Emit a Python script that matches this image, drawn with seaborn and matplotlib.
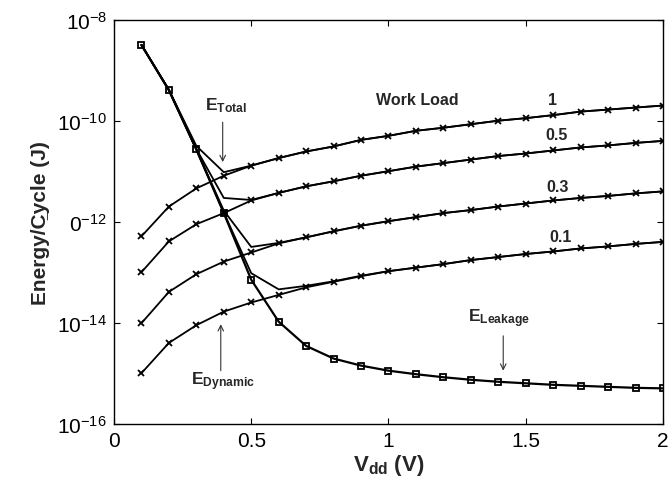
#%%     Imports
import numpy as np
import pandas as pd
import matplotlib
matplotlib.use("Agg")
import matplotlib.pyplot as plt
from matplotlib.ticker import FixedLocator, FixedFormatter, NullLocator
import seaborn as sns


#%%     Data (log10 of energy per cycle)

vdd = [0.1, 0.2, 0.3, 0.4, 0.5, 0.6, 0.7, 0.8, 0.9, 1.0,
       1.1, 1.2, 1.3, 1.4, 1.5, 1.6, 1.7, 1.8, 1.9, 2.0]

work_loads = ['1', '0.5', '0.3', '0.1']

log_leakage = [-8.50, -9.40, -10.57, -11.83, -13.15, -13.98, -14.46, -14.71, -14.85, -14.95,
               -15.02, -15.08, -15.13, -15.17, -15.20, -15.23, -15.25, -15.27, -15.29, -15.30]

log_dyn_1 = [-12.29, -11.70, -11.34, -11.09, -10.89, -10.74, -10.61, -10.51, -10.38, -10.30,
             -10.20, -10.14, -10.07, -10.00, -9.95, -9.89, -9.82, -9.78, -9.74, -9.70]
log_dyn_05 = [-13.00, -12.39, -12.05, -11.83, -11.58, -11.43, -11.30, -11.20, -11.09, -11.00,
              -10.91, -10.84, -10.77, -10.70, -10.65, -10.59, -10.53, -10.49, -10.44, -10.40]
log_dyn_03 = [-14.01, -13.39, -13.04, -12.79, -12.61, -12.43, -12.31, -12.19, -12.08, -11.99,
              -11.91, -11.83, -11.77, -11.70, -11.64, -11.58, -11.53, -11.49, -11.44, -11.40]
log_dyn_01 = [-15.00, -14.40, -14.05, -13.78, -13.60, -13.45, -13.30, -13.19, -13.08, -12.98,
              -12.91, -12.84, -12.76, -12.70, -12.64, -12.59, -12.53, -12.49, -12.44, -12.40]

log_tot_1 = [-8.50, -9.39, -10.50, -11.02, -10.89, -10.74, -10.61, -10.51, -10.38, -10.30,
             -10.20, -10.14, -10.07, -10.00, -9.95, -9.89, -9.82, -9.78, -9.74, -9.70]
log_tot_05 = [-8.50, -9.39, -10.56, -11.53, -11.57, -11.43, -11.30, -11.20, -11.09, -11.00,
              -10.91, -10.84, -10.77, -10.70, -10.65, -10.59, -10.53, -10.49, -10.44, -10.40]
log_tot_03 = [-8.50, -9.39, -10.57, -11.78, -12.50, -12.42, -12.31, -12.19, -12.08, -11.99,
              -11.91, -11.83, -11.77, -11.70, -11.64, -11.58, -11.53, -11.49, -11.44, -11.40]
log_tot_01 = [-8.50, -9.39, -10.57, -11.82, -13.02, -13.34, -13.27, -13.18, -13.07, -12.98,
              -12.91, -12.84, -12.76, -12.70, -12.64, -12.59, -12.53, -12.49, -12.44, -12.40]

y_ticks = [1e-16, 1e-14, 1e-12, 1e-10, 1e-8]
y_tick_labels = ['$10^{-16}$', '$10^{-14}$', '$0^{-12}$', '$10^{-10}$', '$10^{-8}$']
x_ticks = [0, 0.5, 1, 1.5, 2]
x_tick_labels = ['0', '0.5', '1', '1.5', '2']


#%%     Style
sns.set_style('ticks')
plt.rcParams['font.family'] = ['Liberation Sans', 'DejaVu Sans']
plt.rcParams['mathtext.fontset'] = 'custom'
plt.rcParams['mathtext.rm'] = 'Liberation Sans'
plt.rcParams['mathtext.bf'] = 'Liberation Sans:bold'
plt.rcParams['mathtext.it'] = 'Liberation Sans:italic'


#%%     Plot
fig = plt.figure(figsize=(6.69, 4.89), dpi=100)
ax = fig.add_axes([0.1704, 0.1315, 0.8206, 0.8262])

def to_df(logs):
    return pd.DataFrame({'vdd': vdd, 'E': 10.0 ** np.array(logs)})

for logs in [log_tot_1, log_tot_05, log_tot_03, log_tot_01]:
    sns.lineplot(data=to_df(logs), x='vdd', y='E', ax=ax, color='black',
                 lw=1.3, estimator=None, sort=False)

for logs in [log_dyn_1, log_dyn_05, log_dyn_03, log_dyn_01]:
    sns.lineplot(data=to_df(logs), x='vdd', y='E', ax=ax, color='black',
                 lw=1.3, marker='x', markersize=4.5, markeredgewidth=1.3,
                 markeredgecolor='black', estimator=None, sort=False)

sns.lineplot(data=to_df(log_leakage), x='vdd', y='E', ax=ax, color='black',
             lw=1.6, marker='s', markersize=5, markeredgewidth=1.3,
             markerfacecolor='none', markeredgecolor='black',
             estimator=None, sort=False)

ax.set_yscale('log')
ax.set_xlim(0, 2)
ax.set_ylim(1e-16, 1e-8)
ax.yaxis.set_major_locator(FixedLocator(y_ticks))
ax.yaxis.set_major_formatter(FixedFormatter(y_tick_labels))
ax.yaxis.set_minor_locator(NullLocator())
ax.xaxis.set_major_locator(FixedLocator(x_ticks))
ax.xaxis.set_major_formatter(FixedFormatter(x_tick_labels))
ax.tick_params(direction='in', length=4, width=0.8, labelsize=15, pad=5,
               top=True, right=True, colors='black')
for sp in ax.spines.values():
    sp.set_visible(True)
    sp.set_linewidth(1.0)
    sp.set_color('black')

ax.set_xlabel(r'$\mathbf{V_{dd}}$ (V)', fontsize=16, fontweight='bold', labelpad=2)
ax.set_ylabel('Energy/C\u0332ycle (J)', fontsize=15, fontweight='bold', labelpad=5)

# curve labels
ax.text(1.104, 10 ** -9.59, 'Work Load', fontsize=11.5, fontweight='bold', ha='center', va='center')
label_pos = [(1.599, -9.59), (1.613, -10.28), (1.617, -11.30), (1.628, -12.30)]
for wl, (lx, ly) in zip(work_loads, label_pos):
    ax.text(lx, 10 ** ly, wl, fontsize=11.5, fontweight='bold', ha='center', va='center')

# energy annotations
arrow = dict(arrowstyle='->', color='#333333', lw=0.8, shrinkA=0, shrinkB=0)
ax.annotate('', xy=(0.396, 10 ** -10.82), xytext=(0.396, 10 ** -10.03), arrowprops=arrow)
ax.text(0.332, 10 ** -9.77, r'$\mathbf{E_{Total}}$', fontsize=12.5, ha='left', va='baseline')
ax.annotate('', xy=(0.389, 10 ** -14.03), xytext=(0.389, 10 ** -14.95), arrowprops=arrow)
ax.text(0.279, 10 ** -15.21, r'$\mathbf{E_{Dynamic}}$', fontsize=12.5, ha='left', va='baseline')
ax.annotate('', xy=(1.418, 10 ** -14.95), xytext=(1.418, 10 ** -14.26), arrowprops=arrow)
ax.text(1.290, 10 ** -13.97, r'$\mathbf{E_{Leakage}}$', fontsize=12.5, ha='left', va='baseline')

fig.savefig('out.png', dpi=100)
